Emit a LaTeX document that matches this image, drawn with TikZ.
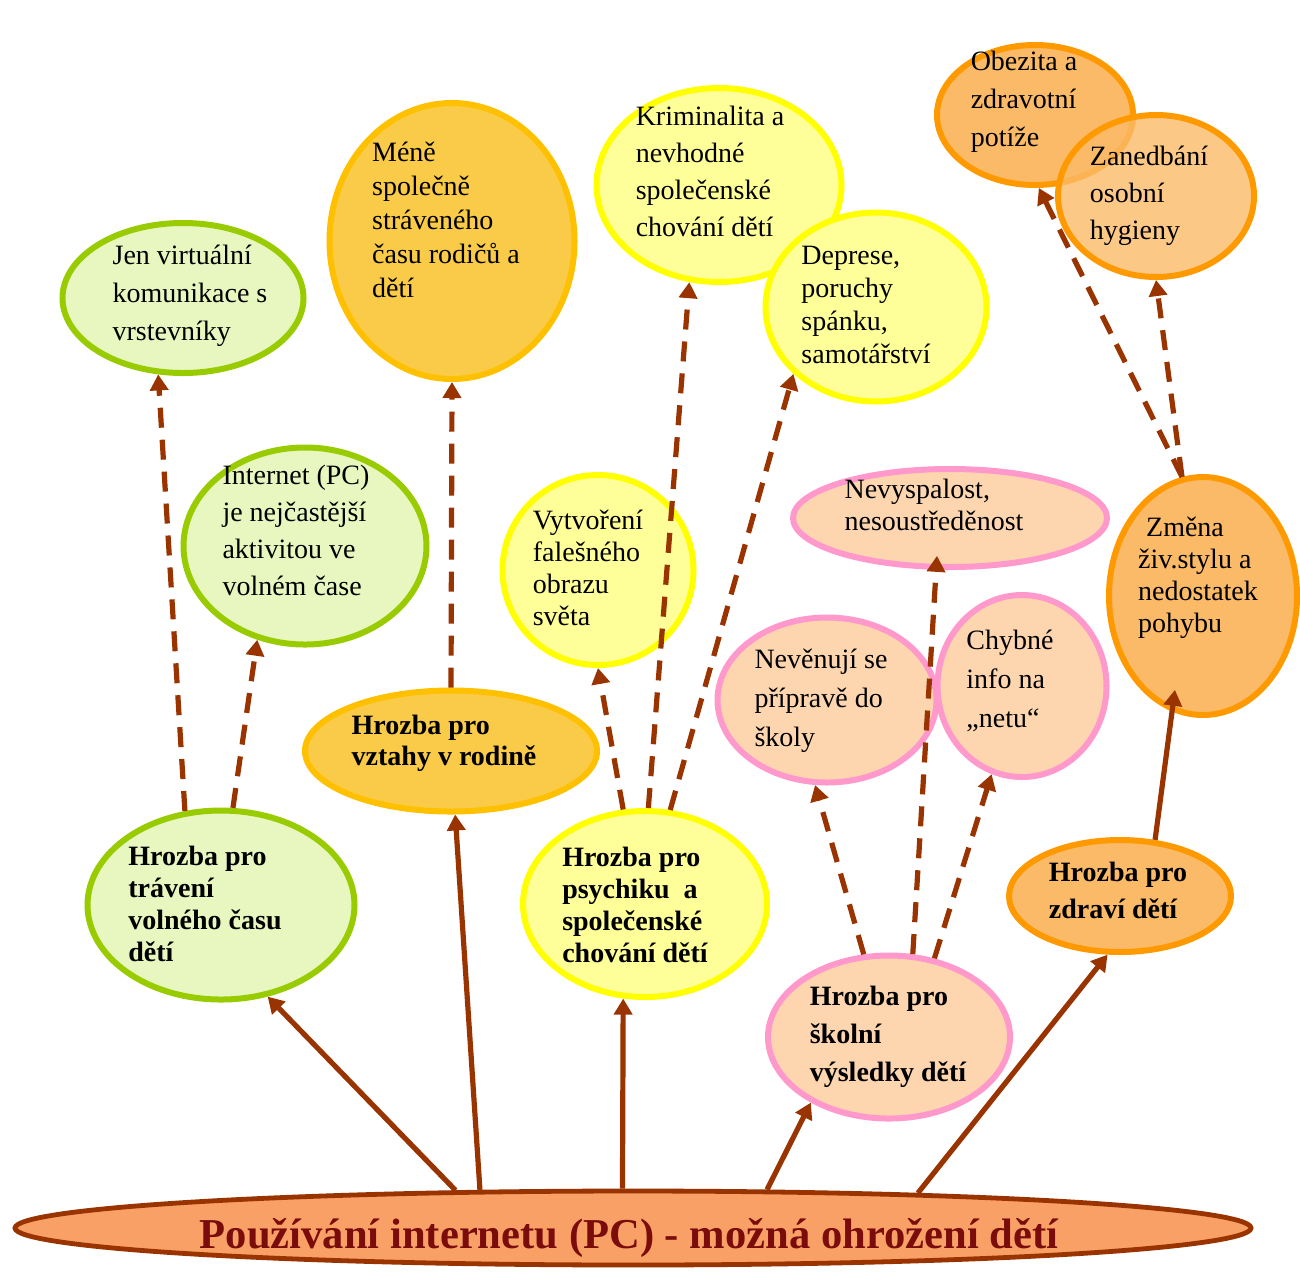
\documentclass[tikz,border=0pt]{standalone}
\usepackage{fontspec}
\setmainfont{Liberation Serif}
\usetikzlibrary{shapes.geometric, arrows.meta}
\usepackage{xcolor}
\definecolor{ArrowBrown}{HTML}{993300}
\definecolor{TitleRed}{HTML}{7A0C0C}
\definecolor{RootFill}{HTML}{F9A066}
\definecolor{LimeLine}{HTML}{99CC00}
\definecolor{LimeFill}{HTML}{E8F6C0}
\definecolor{GoldLine}{HTML}{FFC000}
\definecolor{GoldFill}{HTML}{FACB48}
\definecolor{YellowLine}{HTML}{FFFF00}
\definecolor{YellowFill}{HTML}{FFFF99}
\definecolor{PinkLine}{HTML}{FF99CC}
\definecolor{PeachFill}{HTML}{FDD6B0}
\definecolor{OrangeLine}{HTML}{FF9900}
\definecolor{OrangeFill}{HTML}{FBBA68}

\newcommand{\bubfont}[1]{\fontsize{14}{#1}\selectfont}

\tikzset{
  bubble/.style={ellipse, draw, line width=3pt, inner sep=0pt},
  limebub/.style={bubble, draw=LimeLine, fill=LimeFill},
  goldbub/.style={bubble, draw=GoldLine, fill=GoldFill},
  yellowbub/.style={bubble, draw=YellowLine, fill=YellowFill},
  pinkbub/.style={bubble, draw=PinkLine, fill=PeachFill},
  orangebub/.style={bubble, draw=OrangeLine, fill=OrangeFill},
  bubtext/.style={align=left, inner sep=0pt, font=\bubfont{17}},
  threattext/.style={bubtext, font=\bubfont{16}\bfseries},
  link/.style={-{Triangle[length=8pt, width=9pt]}, line width=2.6pt, ArrowBrown},
  maybe/.style={link, dash pattern=on 10pt off 6pt},
}

\begin{document}
\begin{tikzpicture}[x=0.5pt, y=-0.5pt]
  \useasboundingbox (0,0) rectangle (1300,1271);

  % root
  \node[bubble, draw=ArrowBrown, fill=RootFill, line width=2.4pt, minimum width=618pt, minimum height=37pt] (root) at (633,1228) {};
  \node[anchor=base, inner sep=0pt, text=TitleRed, font=\fontsize{21.3}{24}\selectfont\bfseries] (roottext) at (629,1248) {Používání internetu (PC) - možná ohrožení dětí};

  % volny cas
  \node[limebub, minimum width=133.5pt, minimum height=94.5pt] (travel) at (221,905) {};
  \node[threattext] (traveltext) at (205,904) {Hrozba pro\\trávení\\volného času\\dětí};
  \node[limebub, minimum width=120.5pt, minimum height=75pt] (virtual) at (183,298) {};
  \node[bubtext, font=\bubfont{19}] (virtualtext) at (190,296) {Jen virtuální\\komunikace s\\vrstevníky};
  \node[limebub, minimum width=121.5pt, minimum height=98.5pt] (freetime) at (305,546) {};
  \node[bubtext, font=\bubfont{18.5}] (freetimetext) at (296,530) {Internet (PC)\\je nejčastější\\aktivitou ve\\volném čase};

  % rodina
  \node[goldbub, minimum width=146pt, minimum height=60.5pt] (family) at (451,751) {};
  \node[threattext, font=\bubfont{15.5}\bfseries] (familytext) at (444,743) {Hrozba pro\\vztahy v rodině};
  \node[goldbub, minimum width=122.5pt, minimum height=138pt] (together) at (452,241) {};
  \node[bubtext] (togethertext) at (446,220) {Méně\\společně\\stráveného\\času rodičů a\\dětí};

  % psychika
  \node[yellowbub, minimum width=122pt, minimum height=93pt] (psyche) at (645,904) {};
  \node[threattext] (psychetext) at (635,905) {Hrozba pro\\psychiku\ \ a\\společenské\\chování dětí};
  \node[yellowbub, minimum width=95.5pt, minimum height=95pt] (falseworld) at (598,570) {};
  \node[bubtext, font=\bubfont{16}] (falseworldtext) at (588,568) {Vytvoření\\falešného\\obrazu\\světa};
  \node[yellowbub, minimum width=122.5pt, minimum height=97pt] (crime) at (719,185) {};
  \node[bubtext, font=\bubfont{18.5}] (crimetext) at (710,171) {Kriminalita a\\nevhodné\\společenské\\chování dětí};
  \node[yellowbub, minimum width=110.5pt, minimum height=94.5pt] (depress) at (876,307) {};
  \node[bubtext, font=\bubfont{16.5}] (depresstext) at (866,305) {Deprese,\\poruchy\\spánku,\\samotářství};

  % skola
  \node[pinkbub, minimum width=121pt, minimum height=81.5pt] (school) at (889,1037) {};
  \node[threattext, font=\bubfont{19}\bfseries] (schooltext) at (888,1037) {Hrozba pro\\školní\\výsledky dětí};
  \node[pinkbub, minimum width=157pt, minimum height=49pt] (sleep) at (950,518) {};
  \node[bubtext, font=\bubfont{16}] (sleeptext) at (934,505) {Nevyspalost,\\nesoustředěnost};
  \node[pinkbub, minimum width=109.5pt, minimum height=82.5pt] (prepare) at (827,700) {};
  \node[bubtext, font=\bubfont{19.5}] (preparetext) at (821,701) {Nevěnují se\\přípravě do\\školy};
  \node[pinkbub, minimum width=84.5pt, minimum height=91pt] (wronginfo) at (1022,686) {};
  \node[bubtext, font=\bubfont{19.5}] (wronginfotext) at (1010,681) {Chybné\\info na\\„netu“};

  % zdravi
  \node[orangebub, minimum width=111pt, minimum height=56pt] (health) at (1120,896) {};
  \node[threattext, font=\bubfont{18.5}\bfseries] (healthtext) at (1118,890) {Hrozba pro\\zdraví dětí};
  \node[orangebub, minimum width=94pt, minimum height=119pt] (lifestyle) at (1203,596) {};
  \node[bubtext, font=\bubfont{16}] (lifestyletext) at (1198,578) {\hspace*{4pt}Změna\\živ.stylu a\\nedostatek\\pohybu};
  \node[orangebub, minimum width=98pt, minimum height=70pt] (obesity) at (1035,115) {};
  \node[bubtext, font=\bubfont{19}] (obesitytext) at (1024,102) {Obezita a\\zdravotní\\potíže};
  \node[orangebub, fill opacity=0.8, minimum width=98pt, minimum height=81pt] (hygiene) at (1156,196) {};
  \node[bubtext, font=\bubfont{18.5}] (hygienetext) at (1149,196) {Zanedbání\\osobní\\hygieny};

  % hlavni vetve
  \draw[link] (root.168.06) -- (travel.297);
  \draw[link] (root.166.24) -- (family);
  \draw[link] (root.105.4) -- (psyche.257.2);
  \draw[link] (root.16.13) -- (school.220.4);
  \draw[link] (root.7.27) -- (health.258.5);
  \draw[link, shorten >=-11pt] (health.58.8) -- (lifestyle.255.1);

  % dusledky
  \draw[maybe] (travel.111.2) -- (virtual.252.6);
  \draw[maybe] (travel.83.3) -- (freetime.243.7);
  \draw[maybe] (family.north) -- (together.south);
  \draw[maybe] (psyche.103.5) -- (falseworld.south);
  \draw[maybe] (psyche.88.8) -- (crime.253.8);
  \draw[maybe] (psyche.75.4) -- (depress.219.5);
  \draw[maybe] (school.107.8) -- (prepare.262);
  \draw[maybe, shorten >=-7pt] (school.74.7) -- (sleep.255);
  \draw[maybe] (school.60.3) -- (wronginfo.251);
  \draw[maybe] (lifestyle.100.8) -- (obesity.273.8);
  \draw[maybe] (lifestyle.100.8) -- (hygiene.270.6);
\end{tikzpicture}
\end{document}
